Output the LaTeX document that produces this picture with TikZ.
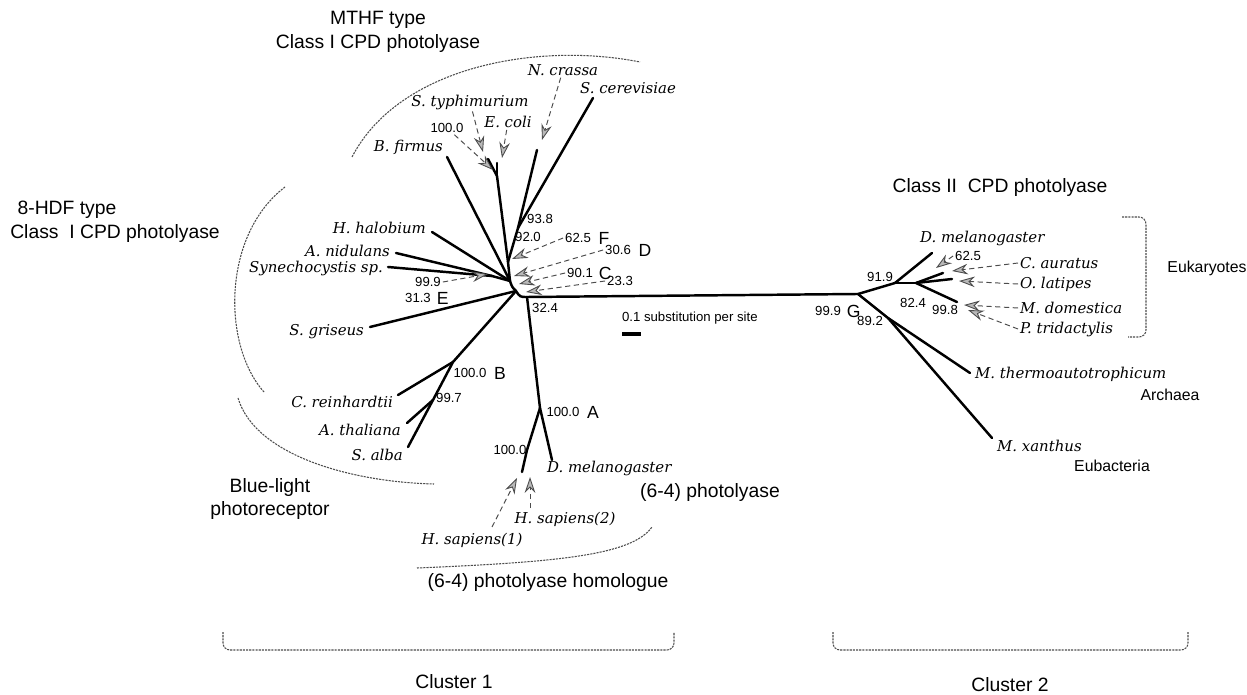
\documentclass[tikz,border=0pt]{standalone}
\usepackage{fontspec}
\usepackage{tikz}
\usetikzlibrary{positioning,arrows.meta}
\newfontfamily\arialfont{Liberation Sans}
\newfontfamily\speciesfont{DejaVu Serif}

\begin{document}
\begin{tikzpicture}[x=0.02cm,y=-0.02cm]
	\tikzstyle{branch}=[line width=1.4pt,line cap=round]
	\tikzstyle{sp}=[font=\speciesfont\fontsize{8.5}{10}\selectfont\itshape,inner sep=1pt]
	\tikzstyle{boot}=[font=\arialfont\fontsize{7.5}{9}\selectfont,inner sep=1pt]
	\tikzstyle{lett}=[font=\arialfont\fontsize{10}{12}\selectfont,inner sep=1pt]
	\tikzstyle{grp}=[font=\arialfont\fontsize{11}{13.5}\selectfont,inner sep=1pt,align=center]
	\tikzstyle{hatch}=[gray!60!black,densely dashed,line width=0.55pt,-{Stealth[length=9pt,width=6pt,fill=gray!55,line width=0.5pt]}]
	\tikzstyle{bound}=[gray!60!black,dash pattern=on 1.2pt off 0.6pt,line width=0.6pt]
	\useasboundingbox (0,0) rectangle (1247,695);
		\coordinate (hub1) at (510,281);
		\coordinate (hubE) at (516,291);
		\coordinate (hub2) at (527,297);
		\coordinate (n92) at (508,262);
		\coordinate (n93) at (518,228);
		\coordinate (nEc) at (497,176);
		\coordinate (tSty) at (488,159);
		\coordinate (tEco) at (497,163);
		\coordinate (tNcr) at (537,150);
		\coordinate (tSce) at (593,98);
		\coordinate (tBfi) at (447,157);
		\coordinate (tHal) at (432,232);
		\coordinate (n999) at (492,276);
		\coordinate (tAni) at (396,253);
		\coordinate (tSyn) at (388,267);
		\coordinate (tSgr) at (370,327);
		\coordinate (nB) at (453,362);
		\coordinate (n997) at (433,400);
		\coordinate (tCre) at (398,395);
		\coordinate (tAth) at (407,423);
		\coordinate (tSal) at (408,447);
		\coordinate (nA) at (540,408);
		\coordinate (tDme) at (552,460);
		\coordinate (nHs) at (527,450);
		\coordinate (tHs) at (522,472);
		\coordinate (nG) at (858,294);
		\coordinate (n919) at (895,283);
		\coordinate (n824) at (916,283);
		\coordinate (tDm2) at (932,253);
		\coordinate (tCau) at (943,273);
		\coordinate (tOla) at (952,279);
		\coordinate (n998) at (957,302);
		\coordinate (n892) at (888,318);
		\coordinate (tMth) at (970,373);
		\coordinate (tMxa) at (992,438);
			\draw[branch] (hub1) -- (tBfi);
			\draw[branch] (hub1) -- (tHal);
			\draw[branch] (hub1) -- (n999);
			\draw[branch] (n999) -- (tAni);
			\draw[branch] (n999) -- (tSyn);
			\draw[branch] (hub1) -- (n92);
			\draw[branch] (n92) -- (nEc);
			\draw[branch] (nEc) -- (tSty);
			\draw[branch] (nEc) -- (tEco);
			\draw[branch] (n92) -- (n93);
			\draw[branch] (n93) -- (tNcr);
			\draw[branch] (n93) -- (tSce);
			\draw[branch] (hub1) .. controls (512,287) .. (hubE) .. controls (520,297) .. (hub2);
			\draw[branch] (hubE) -- (tSgr);
			\draw[branch] (hubE) -- (nB);
			\draw[branch] (nB) -- (tCre);
			\draw[branch] (nB) -- (n997);
			\draw[branch] (n997) -- (tAth);
			\draw[branch] (n997) -- (tSal);
			\draw[branch] (hub2) -- (nA);
			\draw[branch] (nA) -- (tDme);
			\draw[branch] (nA) -- (nHs) -- (tHs);
			\draw[branch] (hub2) -- (nG);
			\draw[branch] (nG) -- (n919);
			\draw[branch] (n919) -- (tDm2);
			\draw[branch] (n919) -- (n824);
			\draw[branch] (n824) -- (tCau);
			\draw[branch] (n824) -- (tOla);
			\draw[branch] (n824) -- (n998);
			\draw[branch] (nG) -- (n892);
			\draw[branch] (n892) -- (tMth);
			\draw[branch] (n892) -- (tMxa);
		\node[sp] (lSty) at (470,102) {S. typhimurium};
		\node[sp] (lEco) at (508,122) {E. coli};
		\node[sp] (lNcr) at (563,70) {N. crassa};
		\node[sp,anchor=west] (lSce) at (578,88) {S. cerevisiae};
		\node[sp,anchor=east] (lBfi) at (445,147) {B. firmus};
		\node[sp,anchor=east] (lHal) at (428,228) {H. halobium};
		\node[sp,anchor=east] (lAni) at (392,251) {A. nidulans};
		\node[sp,anchor=east] (lSyn) at (385,268) {Synechocystis sp.};
		\node[sp,anchor=east] (lSgr) at (366,332) {S. griseus};
		\node[sp,anchor=east] (lCre) at (395,402) {C. reinhardtii};
		\node[sp,anchor=east] (lAth) at (403,430) {A. thaliana};
		\node[sp,anchor=east] (lSal) at (405,455) {S. alba};
		\node[sp,anchor=west] (lDme) at (545,468) {D. melanogaster};
		\node[sp] (lHs2) at (565,519) {H. sapiens(2)};
		\node[sp] (lHs1) at (472,540) {H. sapiens(1)};
		\node[sp,anchor=west] (lDm2) at (918,238) {D. melanogaster};
		\node[sp,anchor=west] (lCau) at (1018,263) {C. auratus};
		\node[sp,anchor=west] (lOla) at (1018,284) {O. latipes};
		\node[sp,anchor=west] (lMdo) at (1018,308) {M. domestica};
		\node[sp,anchor=west] (lPtr) at (1018,329) {P. tridactylis};
		\node[sp,anchor=west] (lMth) at (973,374) {M. thermoautotrophicum};
		\node[sp,anchor=west] (lMxa) at (995,446) {M. xanthus};
		\node[boot] (b1000s) at (447,128) {100.0};
		\node[boot] (b938) at (540,219) {93.8};
		\node[boot] (b920) at (528,237) {92.0};
		\node[boot] (b625) at (578,238) {62.5};
		\node[lett,right=2pt of b625] (lF) {F};
		\node[boot] (b306) at (618,250) {30.6};
		\node[lett,right=2pt of b306] (lD) {D};
		\node[boot] (b901) at (580,273) {90.1};
		\node[lett,right=1pt of b901] (lC) {C};
		\node[boot] (b233) at (620,281) {23.3};
		\node[boot] (b999) at (428,282) {99.9};
		\node[boot] (b313) at (418,298) {31.3};
		\node[lett,right=1pt of b313] (lE) {E};
		\node[boot] (b324) at (545,308) {32.4};
		\node[boot] (b1000B) at (470,373) {100.0};
		\node[lett,right=2pt of b1000B] (lB) {B};
		\node[boot] (b997) at (449,398) {99.7};
		\node[boot] (b1000A) at (563,412) {100.0};
		\node[lett,right=2pt of b1000A] (lA) {A};
		\node[boot] (b1000H) at (510,450) {100.0};
		\node[boot] (b919) at (880,277) {91.9};
		\node[boot] (b625r) at (968,256) {62.5};
		\node[boot] (b824) at (913,303) {82.4};
		\node[boot] (b998) at (945,310) {99.8};
		\node[boot] (b999G) at (828,311) {99.9};
		\node[lett,right=1pt of b999G] (lG) {G};
		\node[boot] (b892) at (870,321) {89.2};
		\coordinate (aSty) at (483,152);
		\coordinate (aBoot) at (493,170);
		\coordinate (aEco) at (502,158);
		\coordinate (aNcr) at (542,140);
		\coordinate (a999) at (488,274);
		\coordinate (aF) at (512,259);
		\coordinate (aD) at (514,276);
		\coordinate (aC) at (519,284);
		\coordinate (a233) at (526,292);
		\coordinate (sHs1) at (492,527);
		\coordinate (aHs1) at (517,478);
		\coordinate (sHs2) at (530,508);
		\coordinate (aHs2) at (530,477);
		\coordinate (a625r) at (936,268);
		\coordinate (aCau) at (952,271);
		\coordinate (aOla) at (959,281);
		\coordinate (aMdo) at (964,305);
		\coordinate (aPtr) at (968,310);
			\draw[hatch] (lSty) -- (aSty);
			\draw[hatch] (b1000s) -- (aBoot);
			\draw[hatch] (lEco) -- (aEco);
			\draw[hatch] (lNcr) -- (aNcr);
			\draw[hatch] (b999.east) -- (a999);
			\draw[hatch] (b625.west) -- (aF);
			\draw[hatch] (b306.west) -- (aD);
			\draw[hatch] (b901.west) -- (aC);
			\draw[hatch] (b233.west) -- (a233);
			\draw[hatch] (sHs1) -- (aHs1);
			\draw[hatch] (sHs2) -- (aHs2);
			\draw[hatch] (b625r.west) -- (a625r);
			\draw[hatch] (lCau.west) -- (aCau);
			\draw[hatch] (lOla.west) -- (aOla);
			\draw[hatch] (lMdo.west) -- (aMdo);
			\draw[hatch] (lPtr.west) -- (aPtr);
		\node[grp] (gMTHF) at (378,32) {MTHF type\\Class I CPD photolyase};
		\node[grp] (gHDF1) at (67,210) {8-HDF type};
		\node[grp] (gHDF2) at (115,234) {Class\ \ I CPD photolyase};
		\node[grp] (gBlue) at (270,499) {Blue-light\\photoreceptor};
		\node[grp] (g64) at (710,493) {(6-4) photolyase};
		\node[grp] (g64h) at (548,583) {(6-4) photolyase homologue};
		\node[grp] (gCII) at (1000,188) {Class II\ \ CPD photolyase};
		\node[grp,font=\arialfont\fontsize{9}{11}\selectfont] (gEuk) at (1207,268) {Eukaryotes};
		\node[grp,font=\arialfont\fontsize{9}{11}\selectfont] (gArc) at (1170,395) {Archaea};
		\node[grp,font=\arialfont\fontsize{9}{11}\selectfont] (gEub) at (1112,466) {Eubacteria};
		\node[grp] (gCl1) at (454,682) {Cluster 1};
		\node[grp] (gCl2) at (1010,685) {Cluster 2};
		\node[boot,anchor=west] (lScale) at (620,318) {0.1 substitution per site};
		\coordinate (sb1) at (622,334);
		\coordinate (sb2) at (641,334);
			\draw[line width=2.4pt] (sb1) -- (sb2);
			\draw[bound] (352,157) .. controls (400,65) and (540,42) .. (640,62);
			\draw[bound] (285,187) .. controls (222,235) and (222,345) .. (264,392);
			\draw[bound] (238,398) .. controls (255,455) and (350,482) .. (434,484);
			\draw[bound] (417,568) .. controls (560,562) and (632,555) .. (652,527);
			\draw[bound,rounded corners=4pt] (223,632) -- (223,650) -- (674,650) -- (674,632);
			\draw[bound,rounded corners=4pt] (833,632) -- (833,650) -- (1188,650) -- (1188,632);
			\draw[bound,rounded corners=4pt] (1122,217) -- (1146,217) -- (1146,337) -- (1128,337);
\end{tikzpicture}
\end{document}
